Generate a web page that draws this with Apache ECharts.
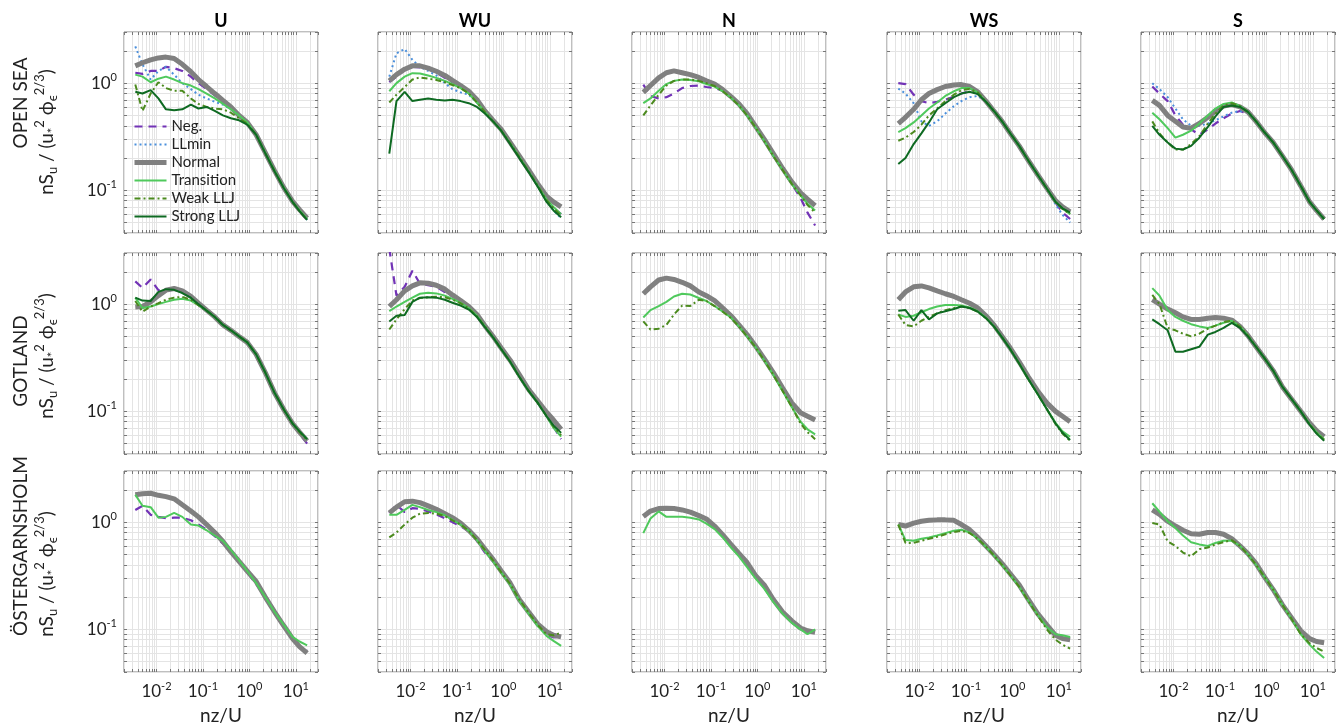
<!DOCTYPE html>
<html>
<head>
<meta charset="utf-8">
<title>nS_u spectra</title>
<script src="https://cdn.jsdelivr.net/npm/echarts@6/dist/echarts.min.js"></script>
<style>
  html, body { margin: 0; padding: 0; background: #fff; }
  #chart { width: 1336px; height: 727px; }
</style>
</head>
<body>
<div id="chart"></div>
<script>
// nz/U sample points shared by every spectrum
const nzU = [0.0035, 0.005, 0.0075, 0.011, 0.016, 0.024, 0.036, 0.055, 0.08, 0.12, 0.18, 0.27, 0.4, 0.6, 0.9, 1.4, 2.2, 3.5, 5.5, 8.5, 12, 17.5];

const seriesNames = ['Neg.', 'LLmin', 'Normal', 'Transition', 'Weak LLJ', 'Strong LLJ'];
const stations = ['OPEN SEA', 'GOTLAND', 'ÖSTERGARNSHOLM'];
const directions = ['U', 'WU', 'N', 'WS', 'S'];
const xTickValues = [0.01, 0.1, 1, 10];
const yTickValues = [0.1, 1];
const xGridValues = [0.002, 0.003, 0.004, 0.005, 0.006, 0.007, 0.008, 0.009, 0.01, 0.02, 0.03, 0.04, 0.05, 0.06, 0.07, 0.08, 0.09,
  0.1, 0.2, 0.3, 0.4, 0.5, 0.6, 0.7, 0.8, 0.9, 1, 2, 3, 4, 5, 6, 7, 8, 9, 10, 20, 30];
const yGridValues = [0.04, 0.05, 0.06, 0.07, 0.08, 0.09, 0.1, 0.2, 0.3, 0.4, 0.5, 0.6, 0.7, 0.8, 0.9, 1, 2, 3];

// each panel: [Neg., LLmin, Normal, Transition, Weak LLJ, Strong LLJ]; null = class not plotted
const openSeaU = [
  [1.25, 1.22, 1.3, 1.3, 1.42, 1.38, 1.3, 1.15, 1.0, 0.88, 0.77, 0.67, 0.58, 0.5, 0.42, 0.33, 0.22, 0.15, 0.104, 0.077, 0.064, 0.053],
  [2.2, 1.5, 1.08, 1.3, 1.42, 1.2, 1.0, 0.88, 0.78, 0.72, 0.67, 0.63, 0.57, 0.5, 0.43, 0.33, 0.22, 0.15, 0.105, 0.077, 0.064, 0.053],
  [1.45, 1.55, 1.65, 1.72, 1.75, 1.7, 1.5, 1.28, 1.08, 0.93, 0.8, 0.69, 0.6, 0.5, 0.43, 0.33, 0.225, 0.152, 0.106, 0.079, 0.066, 0.055],
  [1.2, 1.15, 1.02, 1.1, 1.15, 1.08, 1.0, 0.95, 0.88, 0.8, 0.72, 0.64, 0.57, 0.5, 0.43, 0.33, 0.225, 0.152, 0.106, 0.078, 0.065, 0.054],
  [0.97, 0.55, 0.8, 1.02, 0.9, 0.85, 0.85, 0.72, 0.64, 0.6, 0.58, 0.57, 0.53, 0.47, 0.42, 0.33, 0.222, 0.15, 0.105, 0.078, 0.064, 0.053],
  [0.83, 0.8, 0.86, 0.72, 0.57, 0.56, 0.57, 0.63, 0.58, 0.6, 0.55, 0.5, 0.47, 0.45, 0.41, 0.33, 0.222, 0.15, 0.105, 0.078, 0.064, 0.053]
];
const openSeaWU = [
  [1.02, 1.15, 1.32, 1.42, 1.4, 1.35, 1.25, 1.12, 1.02, 0.92, 0.82, 0.68, 0.55, 0.45, 0.36, 0.275, 0.205, 0.15, 0.11, 0.082, 0.068, 0.06],
  [1.15, 1.9, 2.08, 1.65, 1.42, 1.3, 1.18, 1.0, 0.88, 0.82, 0.78, 0.66, 0.54, 0.44, 0.36, 0.275, 0.205, 0.15, 0.11, 0.08, 0.065, 0.055],
  [1.05, 1.2, 1.35, 1.45, 1.45, 1.38, 1.29, 1.18, 1.06, 0.95, 0.84, 0.7, 0.55, 0.45, 0.37, 0.28, 0.21, 0.155, 0.115, 0.088, 0.078, 0.07],
  [0.84, 1.0, 1.15, 1.24, 1.23, 1.18, 1.12, 1.05, 0.98, 0.9, 0.8, 0.66, 0.54, 0.44, 0.36, 0.275, 0.205, 0.15, 0.11, 0.082, 0.07, 0.06],
  [0.66, 0.78, 0.92, 1.08, 1.13, 1.1, 1.07, 1.02, 0.96, 0.9, 0.8, 0.66, 0.54, 0.44, 0.36, 0.275, 0.205, 0.15, 0.11, 0.081, 0.068, 0.058],
  [0.22, 0.68, 0.83, 0.68, 0.7, 0.72, 0.7, 0.69, 0.7, 0.68, 0.65, 0.6, 0.52, 0.44, 0.36, 0.27, 0.2, 0.148, 0.108, 0.078, 0.065, 0.056]
];
const openSeaN = [
  [0.97, 0.76, 0.72, 0.74, 0.8, 0.9, 0.94, 0.95, 0.92, 0.9, 0.85, 0.74, 0.63, 0.51, 0.39, 0.29, 0.21, 0.155, 0.115, 0.085, 0.062, 0.047],
  null,
  [0.82, 0.95, 1.12, 1.25, 1.3, 1.25, 1.2, 1.13, 1.05, 0.98, 0.87, 0.75, 0.64, 0.52, 0.4, 0.3, 0.22, 0.16, 0.12, 0.095, 0.083, 0.072],
  [0.65, 0.72, 0.85, 0.98, 1.05, 1.08, 1.07, 1.04, 0.98, 0.93, 0.84, 0.73, 0.62, 0.5, 0.39, 0.29, 0.21, 0.155, 0.115, 0.09, 0.075, 0.065],
  [0.5, 0.62, 0.78, 0.95, 1.05, 1.08, 1.08, 1.05, 1.0, 0.94, 0.84, 0.73, 0.62, 0.5, 0.39, 0.29, 0.21, 0.155, 0.115, 0.09, 0.073, 0.062],
  null
];
const openSeaWS = [
  [1.0, 0.98, 0.78, 0.68, 0.65, 0.67, 0.7, 0.75, 0.8, 0.84, 0.8, 0.67, 0.54, 0.43, 0.34, 0.26, 0.19, 0.14, 0.103, 0.077, 0.062, 0.054],
  [0.89, 0.8, 0.65, 0.44, 0.4, 0.44, 0.52, 0.61, 0.68, 0.74, 0.76, 0.67, 0.54, 0.43, 0.34, 0.26, 0.19, 0.14, 0.102, 0.074, 0.059, 0.05],
  [0.42, 0.48, 0.57, 0.7, 0.8, 0.87, 0.93, 0.96, 0.97, 0.93, 0.83, 0.68, 0.55, 0.44, 0.34, 0.26, 0.19, 0.14, 0.105, 0.08, 0.07, 0.063],
  [0.35, 0.38, 0.43, 0.5, 0.58, 0.66, 0.76, 0.84, 0.9, 0.9, 0.82, 0.67, 0.55, 0.44, 0.34, 0.26, 0.19, 0.14, 0.104, 0.078, 0.068, 0.06],
  [0.29, 0.31, 0.35, 0.41, 0.5, 0.58, 0.68, 0.78, 0.86, 0.88, 0.82, 0.67, 0.55, 0.44, 0.34, 0.26, 0.19, 0.14, 0.104, 0.078, 0.067, 0.06],
  [0.176, 0.2, 0.27, 0.34, 0.43, 0.57, 0.65, 0.74, 0.8, 0.83, 0.79, 0.67, 0.55, 0.44, 0.34, 0.26, 0.19, 0.14, 0.104, 0.078, 0.068, 0.062]
];
const openSeaS = [
  [0.93, 0.8, 0.68, 0.5, 0.41, 0.37, 0.33, 0.37, 0.42, 0.47, 0.52, 0.55, 0.52, 0.44, 0.35, 0.28, 0.21, 0.155, 0.11, 0.078, 0.065, 0.054],
  [1.0, 0.88, 0.74, 0.58, 0.46, 0.4, 0.4, 0.42, 0.45, 0.49, 0.53, 0.55, 0.53, 0.44, 0.35, 0.28, 0.21, 0.155, 0.11, 0.078, 0.065, 0.054],
  [0.69, 0.62, 0.5, 0.44, 0.39, 0.38, 0.42, 0.48, 0.55, 0.61, 0.63, 0.6, 0.54, 0.44, 0.35, 0.28, 0.21, 0.155, 0.11, 0.078, 0.065, 0.054],
  [0.53, 0.46, 0.38, 0.31, 0.33, 0.36, 0.42, 0.5, 0.58, 0.64, 0.66, 0.61, 0.54, 0.44, 0.35, 0.28, 0.21, 0.155, 0.11, 0.078, 0.065, 0.054],
  [0.44, 0.34, 0.28, 0.24, 0.24, 0.27, 0.32, 0.42, 0.52, 0.62, 0.65, 0.61, 0.54, 0.44, 0.35, 0.28, 0.21, 0.155, 0.11, 0.078, 0.065, 0.054],
  [0.4, 0.33, 0.28, 0.245, 0.24, 0.26, 0.31, 0.39, 0.49, 0.6, 0.62, 0.6, 0.54, 0.44, 0.35, 0.28, 0.21, 0.155, 0.11, 0.078, 0.065, 0.054]
];

const gotlandU = [
  [1.63, 1.42, 1.7, 1.35, 1.32, 1.38, 1.32, 1.17, 1.0, 0.87, 0.76, 0.64, 0.57, 0.5, 0.44, 0.34, 0.23, 0.146, 0.103, 0.075, 0.062, 0.05],
  null,
  [0.94, 0.95, 1.05, 1.2, 1.35, 1.4, 1.33, 1.18, 1.02, 0.88, 0.76, 0.64, 0.57, 0.5, 0.44, 0.34, 0.23, 0.148, 0.104, 0.077, 0.064, 0.053],
  [1.15, 0.92, 0.95, 1.0, 1.05, 1.1, 1.12, 1.08, 0.98, 0.87, 0.76, 0.64, 0.57, 0.5, 0.44, 0.34, 0.23, 0.148, 0.104, 0.077, 0.065, 0.055],
  [1.07, 0.85, 0.95, 1.02, 1.1, 1.15, 1.17, 1.1, 0.98, 0.87, 0.76, 0.64, 0.57, 0.5, 0.44, 0.34, 0.23, 0.148, 0.104, 0.077, 0.064, 0.054],
  [1.15, 1.08, 1.07, 1.3, 1.38, 1.36, 1.27, 1.15, 1.0, 0.87, 0.76, 0.64, 0.57, 0.5, 0.44, 0.34, 0.23, 0.148, 0.104, 0.077, 0.065, 0.055]
];
const gotlandWU = [
  [3.3, 1.2, 1.45, 2.05, 1.55, 1.5, 1.45, 1.3, 1.18, 1.05, 0.93, 0.78, 0.62, 0.49, 0.38, 0.29, 0.21, 0.155, 0.12, 0.09, 0.072, 0.055],
  null,
  [0.95, 1.1, 1.33, 1.48, 1.58, 1.57, 1.5, 1.38, 1.22, 1.08, 0.95, 0.8, 0.63, 0.5, 0.39, 0.3, 0.22, 0.16, 0.125, 0.098, 0.083, 0.068],
  [0.86, 0.95, 1.05, 1.15, 1.25, 1.28, 1.26, 1.2, 1.12, 1.03, 0.92, 0.78, 0.62, 0.49, 0.38, 0.29, 0.21, 0.155, 0.12, 0.09, 0.07, 0.058],
  [0.58, 0.72, 0.9, 1.08, 1.14, 1.16, 1.17, 1.16, 1.1, 1.02, 0.91, 0.77, 0.62, 0.49, 0.38, 0.29, 0.21, 0.155, 0.12, 0.09, 0.072, 0.06],
  [0.69, 0.78, 0.79, 1.05, 1.15, 1.16, 1.15, 1.1, 1.03, 0.97, 0.89, 0.76, 0.61, 0.49, 0.38, 0.29, 0.21, 0.155, 0.12, 0.09, 0.074, 0.063]
];
const gotlandN = [
  null,
  null,
  [1.25, 1.45, 1.68, 1.75, 1.7, 1.6, 1.48, 1.3, 1.2, 1.08, 0.92, 0.78, 0.64, 0.52, 0.41, 0.31, 0.23, 0.165, 0.12, 0.097, 0.09, 0.083],
  [0.75, 0.88, 0.96, 1.05, 1.18, 1.25, 1.23, 1.14, 1.07, 0.96, 0.85, 0.75, 0.62, 0.5, 0.4, 0.3, 0.22, 0.155, 0.11, 0.08, 0.068, 0.061],
  [0.69, 0.58, 0.59, 0.64, 0.8, 0.97, 0.96, 1.1, 1.07, 0.96, 0.85, 0.74, 0.62, 0.5, 0.4, 0.3, 0.22, 0.155, 0.11, 0.077, 0.064, 0.055],
  null
];
const gotlandWS = [
  null,
  null,
  [1.1, 1.3, 1.45, 1.48, 1.42, 1.33, 1.25, 1.18, 1.1, 1.02, 0.92, 0.78, 0.64, 0.5, 0.39, 0.29, 0.21, 0.155, 0.12, 0.1, 0.09, 0.08],
  [0.8, 0.76, 0.78, 0.84, 0.9, 0.95, 0.98, 0.98, 0.97, 0.93, 0.86, 0.75, 0.62, 0.49, 0.38, 0.28, 0.2, 0.145, 0.105, 0.078, 0.065, 0.058],
  [0.8, 0.64, 0.62, 0.7, 0.76, 0.82, 0.88, 0.92, 0.95, 0.92, 0.85, 0.74, 0.62, 0.49, 0.38, 0.28, 0.2, 0.145, 0.105, 0.076, 0.062, 0.053],
  [0.87, 0.88, 0.7, 0.88, 0.72, 0.82, 0.86, 0.9, 0.95, 0.92, 0.85, 0.74, 0.62, 0.49, 0.38, 0.28, 0.2, 0.145, 0.105, 0.077, 0.063, 0.054]
];
const gotlandS = [
  null,
  null,
  [1.1, 1.0, 0.9, 0.83, 0.76, 0.72, 0.72, 0.74, 0.75, 0.74, 0.71, 0.62, 0.51, 0.4, 0.315, 0.24, 0.17, 0.13, 0.1, 0.078, 0.066, 0.058],
  [1.41, 1.2, 0.88, 0.76, 0.7, 0.65, 0.62, 0.6, 0.63, 0.67, 0.7, 0.62, 0.51, 0.4, 0.315, 0.24, 0.17, 0.13, 0.1, 0.076, 0.064, 0.055],
  [1.22, 1.0, 0.6, 0.57, 0.53, 0.5, 0.53, 0.59, 0.63, 0.68, 0.7, 0.62, 0.51, 0.4, 0.315, 0.24, 0.17, 0.13, 0.1, 0.076, 0.063, 0.054],
  [0.72, 0.65, 0.57, 0.36, 0.36, 0.38, 0.4, 0.52, 0.55, 0.6, 0.67, 0.6, 0.5, 0.4, 0.315, 0.24, 0.17, 0.13, 0.1, 0.075, 0.062, 0.053]
];

const ostergarnsholmU = [
  [1.3, 1.42, 1.17, 1.12, 1.09, 1.1, 1.1, 1.04, 0.95, 0.85, 0.74, 0.63, 0.53, 0.43, 0.34, 0.265, 0.2, 0.145, 0.105, 0.08, 0.068, 0.063],
  null,
  [1.8, 1.84, 1.86, 1.78, 1.73, 1.65, 1.45, 1.27, 1.12, 0.95, 0.8, 0.66, 0.53, 0.43, 0.35, 0.28, 0.2, 0.145, 0.108, 0.082, 0.069, 0.06],
  [1.8, 1.42, 1.38, 1.1, 1.12, 1.22, 1.12, 0.95, 0.93, 0.84, 0.75, 0.67, 0.55, 0.44, 0.35, 0.27, 0.2, 0.145, 0.11, 0.085, 0.077, 0.071],
  null,
  null
];
const ostergarnsholmWU = [
  [1.22, 1.45, 1.24, 1.35, 1.33, 1.26, 1.18, 1.09, 1.0, 0.92, 0.82, 0.67, 0.52, 0.43, 0.34, 0.265, 0.19, 0.143, 0.11, 0.09, 0.084, 0.085],
  null,
  [1.22, 1.38, 1.55, 1.57, 1.52, 1.42, 1.32, 1.2, 1.1, 0.98, 0.84, 0.7, 0.56, 0.45, 0.35, 0.27, 0.19, 0.145, 0.112, 0.095, 0.088, 0.085],
  [1.17, 1.17, 1.3, 1.45, 1.38, 1.3, 1.24, 1.16, 1.05, 0.95, 0.83, 0.68, 0.54, 0.43, 0.34, 0.26, 0.185, 0.14, 0.107, 0.087, 0.078, 0.07],
  [0.72, 0.8, 0.95, 1.1, 1.2, 1.22, 1.2, 1.14, 1.04, 0.95, 0.83, 0.68, 0.55, 0.44, 0.34, 0.265, 0.19, 0.143, 0.11, 0.09, 0.088, 0.093],
  null
];
const ostergarnsholmN = [
  null,
  null,
  [1.13, 1.27, 1.34, 1.35, 1.34, 1.3, 1.24, 1.15, 1.07, 0.92, 0.76, 0.62, 0.51, 0.42, 0.32, 0.26, 0.19, 0.145, 0.12, 0.103, 0.097, 0.094],
  [0.79, 1.08, 1.26, 1.12, 1.12, 1.12, 1.1, 1.06, 0.97, 0.86, 0.72, 0.58, 0.48, 0.38, 0.3, 0.24, 0.18, 0.14, 0.115, 0.1, 0.09, 0.1],
  null,
  null
];
const ostergarnsholmWS = [
  null,
  null,
  [0.95, 0.92, 0.98, 1.02, 1.04, 1.05, 1.05, 1.04, 0.95, 0.85, 0.72, 0.6, 0.5, 0.41, 0.33, 0.26, 0.19, 0.14, 0.11, 0.088, 0.082, 0.08],
  [0.95, 0.68, 0.67, 0.7, 0.72, 0.75, 0.79, 0.83, 0.85, 0.8, 0.7, 0.59, 0.49, 0.4, 0.32, 0.25, 0.185, 0.137, 0.105, 0.09, 0.088, 0.085],
  [0.95, 0.64, 0.64, 0.67, 0.7, 0.73, 0.77, 0.81, 0.83, 0.79, 0.7, 0.59, 0.49, 0.4, 0.32, 0.25, 0.185, 0.135, 0.1, 0.08, 0.072, 0.066],
  null
];
const ostergarnsholmS = [
  null,
  null,
  [1.3, 1.18, 1.02, 0.92, 0.84, 0.78, 0.77, 0.8, 0.8, 0.77, 0.7, 0.6, 0.51, 0.41, 0.31, 0.235, 0.17, 0.128, 0.097, 0.082, 0.077, 0.075],
  [1.5, 1.25, 1.02, 0.88, 0.75, 0.65, 0.62, 0.6, 0.64, 0.67, 0.67, 0.6, 0.5, 0.4, 0.31, 0.235, 0.17, 0.125, 0.09, 0.072, 0.062, 0.054],
  [0.98, 0.95, 0.66, 0.6, 0.52, 0.48, 0.56, 0.58, 0.62, 0.65, 0.68, 0.6, 0.5, 0.4, 0.31, 0.235, 0.17, 0.125, 0.09, 0.074, 0.067, 0.062],
  null
];

const panels = [
  [openSeaU, openSeaWU, openSeaN, openSeaWS, openSeaS],
  [gotlandU, gotlandWU, gotlandN, gotlandWS, gotlandS],
  [ostergarnsholmU, ostergarnsholmWU, ostergarnsholmN, ostergarnsholmWS, ostergarnsholmS]
];

// layout (px)
const colLeft = [124, 378, 632, 887, 1141];
const rowTop = [32, 253, 471];
const panelW = 194, panelH = 201;
const FONT = 'Lato, "Noto Sans", sans-serif';

const lineStyles = [
  { color: '#7233b6', width: 2.2, type: [8, 6] },
  { color: '#4a8fdc', width: 2, type: [2, 3] },
  { color: '#808080', width: 5, type: 'solid' },
  { color: '#4fc95c', width: 2, type: 'solid' },
  { color: '#4b8a1e', width: 2, type: [6, 3, 2, 3] },
  { color: '#0e6a22', width: 2, type: 'solid' }
];

function powLabel(v) {
  return '10{e|' + Math.round(Math.log10(v)) + '}';
}
const labelRich = { e: { fontSize: 11, fontFamily: FONT, color: '#222', padding: [0, 0, 11, 0] } };

const grids = [], xAxes = [], yAxes = [], series = [];

for (let r = 0; r < 3; r++) {
  for (let c = 0; c < 5; c++) {
    const g = grids.length;
    grids.push({
      left: colLeft[c], top: rowTop[r], width: panelW, height: panelH,
      show: true, borderColor: '#7f7f7f', borderWidth: 1, backgroundColor: '#fff'
    });
    ['bottom', 'top'].forEach(pos => {
      const main = pos === 'bottom';
      xAxes.push({
        type: 'log', logBase: 10, gridIndex: g, position: pos, min: 0.002, max: 30,
        axisLine: { show: false },
        axisTick: { show: true, inside: true, length: 3, customValues: xGridValues, lineStyle: { color: '#777' } },
        axisLabel: {
          show: main && r === 2, customValues: xTickValues, formatter: powLabel, margin: 9,
          fontSize: 17, fontFamily: FONT, color: '#222', rich: labelRich
        },
        splitLine: { show: main, lineStyle: { color: '#e4e4e4', width: 1 } },
        name: main && r === 2 ? 'nz/U' : '', nameLocation: 'middle', nameGap: 34,
        nameTextStyle: { fontSize: 19, fontFamily: FONT, color: '#222' }
      });
    });
    ['left', 'right'].forEach(pos => {
      const main = pos === 'left';
      yAxes.push({
        type: 'log', logBase: 10, gridIndex: g, position: pos, min: 0.04, max: 3,
        axisLine: { show: false },
        axisTick: { show: true, inside: true, length: 3, customValues: yGridValues, lineStyle: { color: '#777' } },
        axisLabel: {
          show: main && c === 0, customValues: yTickValues, formatter: powLabel, margin: 7,
          fontSize: 17, fontFamily: FONT, color: '#222', rich: labelRich
        },
        splitLine: { show: main, lineStyle: { color: '#e4e4e4', width: 1 } }
      });
    });
    panels[r][c].forEach((vals, k) => {
      if (!vals) return;
      series.push({
        name: seriesNames[k], type: 'line', xAxisIndex: 2 * g, yAxisIndex: 2 * g,
        data: nzU.map((x, i) => [x, vals[i]]),
        symbol: 'none', clip: true, silent: true, z: 2 + k,
        lineStyle: lineStyles[k], itemStyle: { color: lineStyles[k].color }
      });
    });
  }
}

// column titles and row labels
const graphics = [];
directions.forEach((d, c) => {
  graphics.push({
    type: 'text', x: colLeft[c] + panelW / 2, y: 21,
    style: { text: d, fontSize: 18, fontWeight: 'bold', fontFamily: FONT, fill: '#000', align: 'center', verticalAlign: 'middle' }
  });
});
const stationCenter = [103, 361, 546];
const formulaCenter = [132, 356, 574];
const formulaRich = {
  sub: { fontSize: 13, fontFamily: FONT, fill: '#222', padding: [12, 0, 0, 0] },
  sup: { fontSize: 13, fontFamily: FONT, fill: '#222', padding: [0, 0, 14, 0] }
};
stations.forEach((s, r) => {
  graphics.push({
    type: 'text', x: 21, y: stationCenter[r], rotation: Math.PI / 2,
    style: { text: s, fontSize: 19, fontFamily: FONT, fill: '#222', align: 'center', verticalAlign: 'middle' }
  });
  graphics.push({
    type: 'text', x: 47, y: formulaCenter[r], rotation: Math.PI / 2,
    style: {
      text: 'nS{sub|u} / (u{sub|*}{sup|2} ϕ{sub|ϵ}{sup|2/3})',
      fontSize: 19, fontFamily: FONT, fill: '#222', align: 'center', verticalAlign: 'middle', rich: formulaRich
    }
  });
});

// legend entries carry the line width of their class
const legendData = seriesNames.map((n, k) => ({
  name: n, lineStyle: { width: lineStyles[k].width, type: lineStyles[k].type, color: lineStyles[k].color }
}));

const chart = echarts.init(document.getElementById('chart'), null, { renderer: 'canvas' });
chart.setOption({
  animation: false,
  backgroundColor: '#fff',
  grid: grids,
  xAxis: xAxes,
  yAxis: yAxes,
  legend: {
    data: legendData, orient: 'vertical', left: 132, top: 119,
    itemWidth: 32, itemHeight: 14, itemGap: 3, padding: 0,
    itemStyle: { opacity: 0 },
    textStyle: { fontSize: 15, fontFamily: FONT, color: '#222' },
    selectedMode: false
  },
  graphic: graphics,
  series: series
});
</script>
</body>
</html>
